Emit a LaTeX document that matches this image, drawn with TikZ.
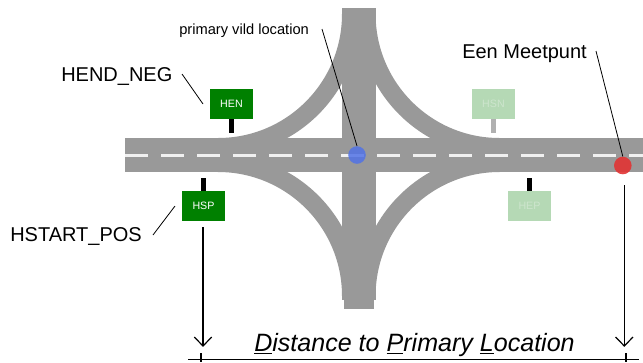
\documentclass[tikz,border=0pt]{standalone}
\usepackage{fontspec}
\setmainfont{Liberation Sans}
\usetikzlibrary{calc}
\definecolor{roadgray}{HTML}{999999}
\definecolor{signgreen}{HTML}{008000}
\definecolor{fadegreen}{HTML}{B5D9B5}
\definecolor{fadetext}{HTML}{CDE5CD}
\definecolor{fadepole}{HTML}{B0B0B0}
\definecolor{dashwhite}{HTML}{F0F0F0}
\definecolor{bluedot}{HTML}{5273E6}
\definecolor{reddot}{HTML}{E23333}
\tikzset{
  x=0.75pt,y=-0.75pt,
  road/.style={fill=roadgray,draw=none},
  ramp/.style={draw=roadgray,line width=13.5pt},
  signbox/.style={minimum width=32.25pt,minimum height=22.5pt,inner sep=0pt,font=\fontsize{8}{9}\selectfont},
  livesign/.style={signbox,fill=signgreen,text=white},
  fadesign/.style={signbox,fill=fadegreen,text=fadetext},
  polebar/.style={line width=4.1pt},
  label/.style={anchor=base west,inner sep=0pt,font=\fontsize{15}{18}\selectfont},
  leader/.style={draw=black,line width=0.6pt},
  measure/.style={draw=black,line width=0.9pt},
}
\begin{document}
\begin{tikzpicture}
\useasboundingbox (0,0) rectangle (643,362);
% roads
\fill[road] (125,138) rectangle (643,172);
\fill[road] (342,8) rectangle (375.6,300);
\fill[road] (343.6,300) rectangle (374.2,309);
% connecting ramps
\draw[ramp] (218,147) .. controls (291.5,147) and (351,87.5) .. (351,14);
\draw[ramp] (499.6,147) .. controls (426.1,147) and (366.6,87.5) .. (366.6,14);
\draw[ramp] (218,163) .. controls (291.5,163) and (351,222.5) .. (351,296);
\draw[ramp] (499.6,163) .. controls (426.1,163) and (366.6,222.5) .. (366.6,296);
% centre line
\draw[dashwhite,line width=2.4pt,dash pattern=on 17.25pt off 9.75pt] (125,155.5) -- (643,155.5);
% signs
\node[livesign] (hen) at (231.5,104) {HEN};
\node[livesign] (hsp) at (203.5,206) {HSP};
\node[fadesign] (hsn) at (493.5,104) {HSN};
\node[fadesign] (hep) at (529.5,206) {HEP};
\coordinate (henfoot) at (231.5,133);
\coordinate (hspfoot) at (203.5,178);
\coordinate (hsnfoot) at (493.5,133);
\coordinate (hepfoot) at (529.5,178);
\draw[polebar] (hen.south) -- (henfoot);
\draw[polebar] (hsp.north) -- (hspfoot);
\draw[polebar,fadepole] (hsn.south) -- (hsnfoot);
\draw[polebar] (hep.north) -- (hepfoot);
% points
\node[circle,fill=bluedot,fill opacity=0.85,draw=none,minimum size=13.2pt,inner sep=0pt] (blue) at (357,155) {};
\node[circle,fill=reddot,fill opacity=0.9,draw=none,minimum size=13.2pt,inner sep=0pt] (red) at (622.8,165.5) {};
% labels
\node[label] (lhen) at (61,81) {HEND\_NEG};
\node[label] (lhsp) at (10,241) {HSTART\_POS};
\node[label] (lmeet) at (462,58) {Een Meetpunt};
\node[label,font=\fontsize{11}{13}\selectfont] (lprim) at (179,34.5) {primary vild location};
\node[label,font=\fontsize{18.8}{22}\selectfont\itshape] (ldist) at (254,351.7) {\underline{D}istance to \underline{P}rimary \underline{L}ocation};
% leaders
\coordinate (a1) at (182,74); \coordinate (a2) at (203,104);
\coordinate (b1) at (153,235); \coordinate (b2) at (175,206);
\coordinate (c1) at (322,29);
\coordinate (d1) at (596,51);
\draw[leader] (a1) -- (a2);
\draw[leader] (b1) -- (b2);
\draw[leader] (c1) -- (blue.north);
\draw[leader] (d1) -- (red.north);
% dimension
\coordinate (s1) at (203,227); \coordinate (s2) at (203,346);
\coordinate (e1) at (624.3,185); \coordinate (e2) at (624.3,346);
\coordinate (bl) at (188,359.3); \coordinate (br) at (639,359.3);
\coordinate (t1) at (201,353); \coordinate (t2) at (201,362);
\coordinate (t3) at (626,353); \coordinate (t4) at (626,362);
\draw[measure] (s1) -- (s2);
\draw[measure] (e1) -- (e2);
\draw[measure,line join=miter] ($(s2)+(-8.7,-9)$) -- (s2) -- ($(s2)+(8.7,-9)$);
\draw[measure,line join=miter] ($(e2)+(-8.7,-9)$) -- (e2) -- ($(e2)+(8.7,-9)$);
\draw[measure] (bl) -- (br);
\draw[measure] (t1) -- (t2);
\draw[measure] (t3) -- (t4);
\end{tikzpicture}
\end{document}
